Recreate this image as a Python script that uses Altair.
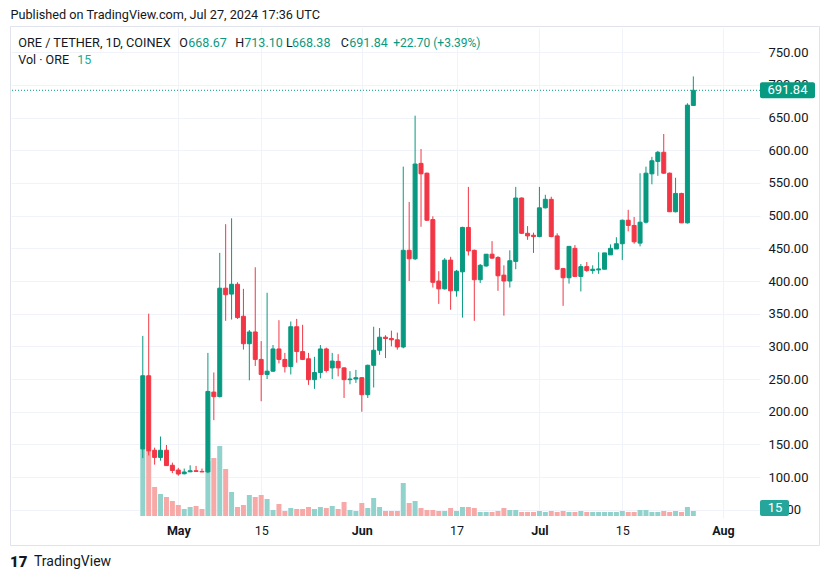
import altair as alt
import pandas as pd
import numpy as np

# ---------------- data ----------------
dates = pd.date_range("2024-04-25", "2024-07-27", freq="D")

opens = [143, 255, 141, 130, 141, 118,
         110.7, 105, 108, 109.6, 108.6, 107.8, 230, 223, 389, 380, 395, 346, 304, 322, 280, 257, 262, 296, 280, 269,
         330, 292, 281, 249, 260, 296, 267, 277, 267, 249, 250,
         252, 226, 271, 294, 314, 312, 310, 299, 447, 434, 580, 565, 494, 400, 388, 432, 385, 414, 482, 447,
         402, 423, 441, 436, 409, 400, 430, 527, 473, 470,
         468, 512, 525, 469, 419, 405, 450, 407, 422, 416, 417, 418, 440, 449, 457, 493, 485, 458, 490, 564,
         583, 597, 565, 506, 534, 489, 668.67]
highs = [316, 350, 145, 162, 149, 122,
         114, 113, 118, 117, 113, 290, 260, 443, 487, 496, 398, 388, 325, 421, 308, 382, 302, 340, 290, 338,
         342, 333, 290, 284, 302, 298, 290, 288, 268, 262, 264,
         253, 272, 330, 328, 317, 324, 321, 575, 521, 653, 602, 566, 499, 415, 435, 437, 417, 483, 544, 448,
         426, 441, 461, 438, 424, 447, 544, 528, 484, 474,
         544, 532, 529, 473, 420, 453, 455, 426, 429, 424, 444, 443, 456, 467, 494, 509, 498, 565, 575, 590,
         599, 625, 566, 558, 535, 672, 713.10]
lows = [129, 133, 119, 125, 117, 106,
        102, 104, 107.5, 108, 107.5, 106, 187, 222, 339, 341, 342, 295, 248, 270, 216, 250, 261, 274, 260, 257,
        275, 279, 241, 235, 251, 260, 250, 254, 221, 242, 244,
        200, 221, 237, 287, 282, 300, 295, 297, 400, 432, 483, 492, 390, 365, 387, 356, 376, 344, 439, 339,
        397, 422, 434, 385, 347, 390, 418, 472, 463, 443,
        467, 511, 467, 417, 362, 396, 406, 384, 414, 411, 411, 418, 440, 449, 432, 476, 457, 453, 488, 548,
        561, 564, 506, 505, 489, 488, 668.38]
closes = [255, 140, 130, 141, 117.5, 110,
          104.6, 107.7, 109.6, 108.6, 107.8, 231, 223, 389, 379, 395, 344, 304, 322, 280, 257, 262, 296, 280, 269, 330,
          292, 280, 249, 260, 296, 263, 277.5, 267, 249, 250, 252,
          226, 271, 294, 314, 312, 310, 299, 447, 434, 579, 564, 493, 398, 388, 432, 385, 415, 482, 446, 402,
          424, 441, 435, 408, 400, 431, 527, 473, 469, 468,
          512, 525, 468, 418, 405, 453, 407, 422, 416, 418, 418.5, 443, 450, 457, 493, 485, 460, 490, 565, 584,
          597, 565, 506, 534, 489, 669.14, 691.84]
volumes = [201, 195, 87, 66, 57, 45,
           33, 21, 27, 30, 21, 165, 174, 210, 141, 72, 27, 33, 63, 57, 63, 51, 18, 36, 15, 24,
           21, 21, 27, 21, 27, 24, 30, 21, 42, 18, 15,
           39, 24, 54, 27, 15, 15, 15, 99, 39, 45, 24, 18, 18, 15, 15, 24, 15, 27, 27, 24,
           12, 12, 12, 15, 24, 18, 18, 12, 12, 12,
           15, 12, 15, 12, 15, 12, 12, 15, 12, 12, 12, 12, 12, 12, 15, 12, 12, 18, 18, 12,
           12, 15, 12, 15, 12, 27, 15]

tick_days = [0, 14, 31, 47, 61, 75, 92]
tick_labels = ["May", "15", "Jun", "17", "Jul", "15", "Aug"]
tick_bold = [True, False, True, False, True, False, True]
price_ticks = list(range(50, 751, 50))

last_close = closes[-1]
last_volume = volumes[-1]

df = pd.DataFrame({"date": dates, "open": opens, "high": highs, "low": lows,
                   "close": closes, "volume": volumes})
df["day"] = (df["date"] - pd.Timestamp("2024-05-01")).dt.days

# ---------------- styling ----------------
UP, DOWN = "#089981", "#F23645"
VUP, VDOWN = "#92d2cc", "#f7a9a7"
TXT = "#131722"
GRID = "#f0f3fa"
FONT = "Roboto"

x_scale = alt.Scale(domain=[-164.5 / 6, (749 - 164.5) / 6], nice=False, zero=False)
y_scale = alt.Scale(domain=[37.3, 787.2], nice=False, zero=False)
v_scale = alt.Scale(domain=[-6, 1464], nice=False, zero=False)

label_expr = " : ".join(f"datum.value == {d} ? '{l}'" for d, l in zip(tick_days, tick_labels)) + " : ''"
bold_days = [d for d, b in zip(tick_days, tick_bold) if b]
bold_test = " || ".join(f"datum.value == {d}" for d in bold_days)

x_axis = alt.Axis(values=tick_days, labelExpr=label_expr, grid=True, gridColor=GRID, gridWidth=1,
                  ticks=False, domain=False, labelPadding=6, labelFontSize=12.5, labelColor=TXT,
                  labelFont=FONT, labelFlush=False, labelOverlap=False,
                  labelFontWeight={"condition": {"test": bold_test, "value": "bold"}, "value": "normal"},
                  title=None)
y_axis = alt.Axis(values=price_ticks, format=".2f", orient="right", grid=True, gridColor=GRID,
                  ticks=False, domain=False, labelPadding=8, labelFontSize=13, labelColor=TXT,
                  labelFont=FONT, labelOverlap=False, labelFlush=False, labelBound=False, title=None)

is_up = "datum.close >= datum.open"
base = alt.Chart(df)

vol = base.mark_bar(size=5).encode(
    x=alt.X("day:Q", scale=x_scale, axis=x_axis),
    y=alt.Y("volume:Q", scale=v_scale, axis=None),
    y2=alt.datum(0),
    color=alt.condition(is_up, alt.value(VUP), alt.value(VDOWN)),
)

vdf = pd.DataFrame({"v": [last_volume]})
vol_box = alt.Chart(vdf).mark_rect(color="#26a69a", yOffset=-11, y2Offset=5, cornerRadius=2).encode(
    x=alt.value(749), x2=alt.value(778),
    y=alt.Y("v:Q", scale=v_scale, axis=None), y2="v:Q")
vol_txt = alt.Chart(vdf).mark_text(color="white", fontSize=13, font=FONT, align="center",
                                   baseline="middle", dy=-3).encode(
    x=alt.value(764), y=alt.Y("v:Q", scale=v_scale, axis=None), text=alt.Text("v:Q", format="d"))

wick = base.mark_rule(strokeWidth=1).encode(
    x=alt.X("day:Q", scale=x_scale, axis=x_axis),
    y=alt.Y("low:Q", scale=y_scale, axis=y_axis),
    y2="high:Q",
    color=alt.condition(is_up, alt.value(UP), alt.value(DOWN)),
)
body = base.mark_bar(size=4, strokeWidth=1).encode(
    x=alt.X("day:Q", scale=x_scale, axis=x_axis),
    y=alt.Y("open:Q", scale=y_scale, axis=y_axis),
    y2="close:Q",
    color=alt.condition(is_up, alt.value(UP), alt.value(DOWN)),
    stroke=alt.condition(is_up, alt.value(UP), alt.value(DOWN)),
)

pdf = pd.DataFrame({"p": [last_close]})
dotted = alt.Chart(pdf).mark_rule(color=UP, strokeDash=[1, 2], strokeWidth=1).encode(
    y=alt.Y("p:Q", scale=y_scale, axis=y_axis))
pbox = alt.Chart(pdf).mark_rect(color=UP, yOffset=-8, y2Offset=8, cornerRadius=2).encode(
    x=alt.value(749), x2=alt.value(804), y=alt.Y("p:Q", scale=y_scale, axis=y_axis), y2="p:Q")
ptxt = alt.Chart(pdf).mark_text(color="white", fontSize=13, font=FONT, align="center",
                                baseline="middle").encode(
    x=alt.value(776.5), y=alt.Y("p:Q", scale=y_scale, axis=y_axis), text=alt.Text("p:Q", format=".2f"))


def label(text, x, y, color=TXT, size=12.5, weight="normal", align="left"):
    return alt.Chart(pd.DataFrame({"t": [text]})).mark_text(
        align=align, baseline="middle", fontSize=size, fontWeight=weight, color=color, font=FONT
    ).encode(x=alt.value(x), y=alt.value(y), text="t:N")


border = alt.Chart(pd.DataFrame({"t": [0]})).mark_rect(fillOpacity=0, stroke="#e0e3eb", strokeWidth=1).encode(
    x=alt.value(-0.5), x2=alt.value(808.5), y=alt.value(-1.5), y2=alt.value(517.5))

o, h, l, c = opens[-1], highs[-1], lows[-1], closes[-1]
chg = c - closes[-2]
pct = chg / closes[-2] * 100

texts = [
    label("Published on TradingView.com, Jul 27, 2024 17:36 UTC", -0.5, -13, size=12.7),
    label("ORE / TETHER, 1D, COINEX", 7.3, 14.5, size=12.7),
    label("O", 168.3, 14.5), label(f"{o:.2f}", 177.3, 14.5, color=UP),
    label("H", 224.3, 14.5), label(f"{h:.2f}", 233.3, 14.5, color=UP),
    label("L", 275, 14.5), label(f"{l:.2f}", 281, 14.5, color=UP),
    label("C", 329.7, 14.5), label(f"{c:.2f}", 338.3, 14.5, color=UP),
    label(f"{chg:+.2f} ({pct:+.2f}%)", 382.3, 14.5, color=UP, size=12),
    label("Vol · ORE", 7.3, 32), label(f"{last_volume}", 66.3, 32, color="#22ab94"),
    label("17", -1, 534, size=15, weight=900),
    label("TradingView", 23, 534, size=14),
]

vol_layer = alt.layer(vol, vol_box, vol_txt)
price_layer = alt.layer(wick, body, dotted, pbox, ptxt, border, *texts)

chart = alt.layer(vol_layer, price_layer).resolve_scale(y="independent").properties(
    width=749, height=490,
    autosize=alt.AutoSizeParams(type="none"),
    padding={"left": 11, "top": 28, "right": 70, "bottom": 61},
    background="white",
).configure_view(strokeWidth=0).configure_axis(labelOverlap=False, labelFlush=False)

chart.save("out.html", embed_options={"renderer": "svg", "actions": False})
